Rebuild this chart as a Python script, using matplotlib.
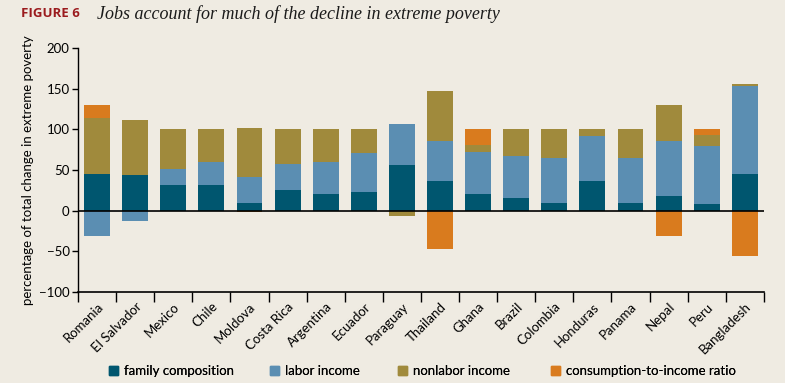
import numpy as np
import matplotlib
matplotlib.use("Agg")
import matplotlib.pyplot as plt
from matplotlib.patches import Rectangle

countries = ["Romania", "El Salvador", "Mexico", "Chile", "Moldova", "Costa Rica",
             "Argentina", "Ecuador", "Paraguay", "Thailand", "Ghana", "Brazil",
             "Colombia", "Honduras", "Panama", "Nepal", "Peru", "Bangladesh"]
family = [45, 44, 32, 32, 9, 25, 20, 23, 56, 36, 21, 16, 10, 37, 9, 18, 8, 45]
labor = [-31, -13, 19, 28, 33, 33, 40, 48, 51, 50, 51, 51, 55, 55, 56, 68, 71, 108]
nonlabor = [69, 68, 50, 40, 60, 42, 40, 29, -7, 61, 9, 33, 35, 8, 35, 44, 14, 3]
consumption = [16, 0, 0, 0, -2, 0, 0, 0, 0, -47, 19, 0, 0, 0, 0, -31, 7, -56]

series_names = ["family composition", "labor income", "nonlabor income",
                "consumption-to-income ratio"]
colors = ["#00566F", "#5B8EB2", "#A08A3C", "#D97B1E"]
bg = "#EFEBE2"

plt.rcParams['font.family'] = ['Lato', 'DejaVu Sans']

fig = plt.figure(figsize=(7.85, 3.83), dpi=100, facecolor=bg)
ax = fig.add_axes([0.0994, 0.2376, 0.8736, 0.637])
ax.set_facecolor(bg)

x = np.arange(len(countries))
pos = np.zeros(len(countries))
neg = np.zeros(len(countries))
for vals, c in zip([family, labor, nonlabor, consumption], colors):
    v = np.array(vals, dtype=float)
    bottoms = np.where(v >= 0, pos, neg)
    ax.bar(x, v, bottom=bottoms, width=0.68, color=c, linewidth=0, zorder=2)
    pos = pos + np.where(v > 0, v, 0)
    neg = neg + np.where(v < 0, v, 0)

ax.axhline(0, color="black", linewidth=1.2, zorder=3)
ax.set_xlim(-0.5, len(countries) - 0.5)
ax.set_ylim(-100, 200)
ax.set_yticks([-100, -50, 0, 50, 100, 150, 200])
ax.set_yticklabels(["\u2212100", "\u221250", "0", "50", "100", "150", "200"])
ax.tick_params(axis='y', length=4, width=1, labelsize=9.5, pad=2)

ax.set_xticks(np.arange(len(countries) + 1) - 0.5)
ax.set_xticklabels([])
ax.set_xticks(x, minor=True)
ax.set_xticklabels(countries, minor=True, rotation=45, ha='right',
                   rotation_mode='anchor', fontsize=9.5)
ax.tick_params(axis='x', which='major', length=7, width=1, direction='out')
ax.tick_params(axis='x', which='minor', length=0, pad=6)

for s in ["top", "right"]:
    ax.spines[s].set_visible(False)
ax.spines["left"].set_linewidth(1)
ax.spines["bottom"].set_linewidth(1.2)

ax.set_ylabel("percentage of total change in extreme poverty", fontsize=9.5, labelpad=4)

# title
fig.text(0.027, 0.965, "FIGURE 6", fontsize=9.5, fontweight='bold', color="#9B1B1E",
         va='center', ha='left', family=['Open Sans', 'DejaVu Sans'])
fig.text(0.123, 0.963, "Jobs account for much of the decline in extreme poverty",
         fontsize=13, style='italic', color="#1a1a1a", va='center', ha='left',
         family=['Liberation Serif', 'DejaVu Serif'])

# legend: one entry per legend, placed like the reference
legend_x = [109, 270, 398, 551]
for name, c, lx in zip(series_names, colors, legend_x):
    h = Rectangle((0, 0), 1, 1, color=c)
    lg = fig.legend([h], [name], loc='center left', bbox_to_anchor=(lx / 785, 1 - 371 / 383),
                    frameon=False, fontsize=9.5, handlelength=0.65, handleheight=0.65,
                    handletextpad=0.5, borderpad=0, borderaxespad=0)
    fig.add_artist(lg)

fig.savefig("out.png", dpi=100, facecolor=bg)
